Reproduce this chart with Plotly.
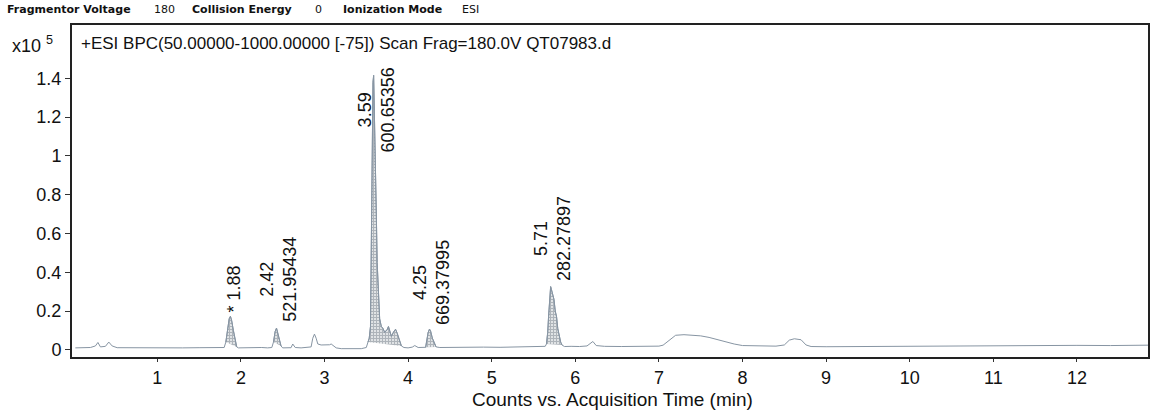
import plotly.graph_objects as go

# ---------------- data (intensity in units of 10^5 counts) ----------------
time_min = [
    0.02, 0.10, 0.20, 0.26, 0.29, 0.32, 0.38, 0.42, 0.46, 0.52, 0.70, 0.90, 1.10, 1.30,
    1.50, 1.65, 1.75, 1.80, 1.82, 1.84, 1.86, 1.875, 1.89, 1.91, 1.93, 1.95, 1.97,
    2.05, 2.15, 2.25, 2.32, 2.37, 2.39, 2.41, 2.426, 2.44, 2.46, 2.48, 2.50, 2.56,
    2.60, 2.62, 2.65, 2.72, 2.80, 2.84, 2.86, 2.88, 2.90, 2.92, 2.96, 3.02, 3.06,
    3.08, 3.11, 3.14, 3.20, 3.28, 3.36, 3.44, 3.50, 3.52, 3.535, 3.55, 3.56, 3.57,
    3.58, 3.588, 3.60, 3.61, 3.62, 3.63, 3.645, 3.66, 3.68, 3.70, 3.72, 3.75, 3.765,
    3.78, 3.80, 3.83, 3.85, 3.87, 3.90, 3.92, 3.95, 4.00, 4.05, 4.08, 4.12, 4.18,
    4.21, 4.22, 4.24, 4.256, 4.27, 4.29, 4.31, 4.335, 4.38, 4.50, 4.70, 4.90, 5.10,
    5.30, 5.50, 5.60, 5.64, 5.655, 5.67, 5.68, 5.695, 5.705, 5.715, 5.73, 5.745,
    5.76, 5.776, 5.79, 5.808, 5.825, 5.84, 5.87, 5.95, 6.05, 6.14, 6.18, 6.21, 6.25,
    6.35, 6.55, 6.75, 6.95, 7.00, 7.05, 7.12, 7.20, 7.30, 7.40, 7.50, 7.60, 7.70,
    7.80, 7.90, 8.00, 8.20, 8.40, 8.50, 8.56, 8.62, 8.70, 8.76, 8.82, 9.00, 9.30,
    9.60, 10.00, 10.40, 10.80, 11.20, 11.60, 12.00, 12.40, 12.85,
]
intensity = [
    0.010, 0.010, 0.012, 0.020, 0.038, 0.015, 0.018, 0.040, 0.020, 0.011, 0.010, 0.011, 0.009, 0.010,
    0.011, 0.010, 0.011, 0.012, 0.040, 0.100, 0.160, 0.173, 0.150, 0.100, 0.050, 0.015, 0.010,
    0.011, 0.009, 0.012, 0.010, 0.012, 0.040, 0.095, 0.112, 0.090, 0.050, 0.020, 0.010, 0.012,
    0.011, 0.030, 0.012, 0.010, 0.011, 0.015, 0.060, 0.081, 0.060, 0.030, 0.025, 0.024, 0.026,
    0.030, 0.020, 0.010, 0.006, 0.005, 0.007, 0.006, 0.012, 0.040, 0.060, 0.120, 0.600, 1.050,
    1.380, 1.415, 1.200, 0.980, 0.700, 0.450, 0.250, 0.160, 0.120, 0.110, 0.090, 0.105, 0.120,
    0.095, 0.070, 0.095, 0.106, 0.085, 0.040, 0.020, 0.012, 0.010, 0.014, 0.022, 0.012, 0.011,
    0.013, 0.040, 0.090, 0.107, 0.095, 0.060, 0.035, 0.015, 0.012, 0.013, 0.012, 0.014, 0.013,
    0.015, 0.014, 0.015, 0.018, 0.030, 0.090, 0.170, 0.280, 0.326, 0.310, 0.280, 0.260,
    0.200, 0.170, 0.110, 0.070, 0.040, 0.025, 0.017, 0.018, 0.017, 0.020, 0.035, 0.043, 0.022,
    0.018, 0.017, 0.018, 0.018, 0.019, 0.024, 0.050, 0.075, 0.078, 0.076, 0.072, 0.064, 0.053,
    0.040, 0.030, 0.022, 0.020, 0.019, 0.025, 0.050, 0.057, 0.052, 0.025, 0.017, 0.016, 0.017,
    0.017, 0.018, 0.019, 0.020, 0.021, 0.022, 0.023, 0.022, 0.024,
]

# integrated peaks: (start, end) retention window, labels
peak_windows = [(1.82, 1.95), (2.39, 2.48), (3.52, 3.92), (4.21, 4.335), (5.655, 5.84)]
label_rt = [1.913, 2.449, 3.617, 4.279, 5.721]
label_y = [0.314, 0.363, 1.235, 0.347, 0.576]
label_text = ["* 1.88", "2.42<br>521.95434", "3.59<br>600.65356",
              "4.25<br>669.37995", "5.71<br>282.27897"]

xtick_vals = [1, 2, 3, 4, 5, 6, 7, 8, 9, 10, 11, 12]
xtick_text = ["1", "2", "3", "4", "5", "6", "7", "8", "9", "10", "11", "12"]
ytick_vals = [0, 0.2, 0.4, 0.6, 0.8, 1.0, 1.2, 1.4]
ytick_text = ["0", "0.2", "0.4", "0.6", "0.8", "1", "1.2", "1.4"]

header_items = [("Fragmentor Voltage", True, 5), ("180", False, 152),
                ("Collision Energy", True, 190), ("0", False, 313),
                ("Ionization Mode", True, 342), ("ESI", False, 461)]
chart_title = "+ESI BPC(50.00000-1000.00000 [-75]) Scan Frag=180.0V QT07983.d"
x_title = "Counts vs. Acquisition Time (min)"

# ---------------- figure ----------------
W, H = 1152, 410
ML, MR, MT, MB = 72, 2, 25, 53
PW, PH = W - ML - MR, H - MT - MB


def px(x):
    return (x - ML) / PW


def py(y):
    return (H - MB - y) / PH


fig = go.Figure()
line_col = "#8795a3"

for (a, b) in peak_windows:
    xs = [t for t in time_min if a <= t <= b]
    ys = [v for t, v in zip(time_min, intensity) if a <= t <= b]
    fig.add_trace(go.Scatter(
        x=xs, y=ys, mode="lines", fill="toself",
        line=dict(color=line_col, width=1),
        fillcolor="rgba(255,255,255,0)",
        fillpattern=dict(shape="+", size=3, solidity=0.7,
                         fgcolor="#5e6a76", bgcolor="white"),
        hoverinfo="skip", showlegend=False))

fig.add_trace(go.Scatter(x=time_min, y=intensity, mode="lines",
                         line=dict(color=line_col, width=1), showlegend=False))

ann = []
for x, y, t in zip(label_rt, label_y, label_text):
    ann.append(dict(x=x, y=y, xref="x", yref="y", text=t, textangle=-90,
                    showarrow=False, xanchor="center", yanchor="middle",
                    font=dict(family="Liberation Sans, Arial", size=18, color="#111")))

for text, bold, left in header_items:
    ann.append(dict(x=px(left), y=py(9), xref="paper", yref="paper",
                    text=f"<b>{text}</b>" if bold else text, showarrow=False,
                    xanchor="left", yanchor="middle",
                    font=dict(family="DejaVu Sans, Verdana", size=11, color="#111")))

ann.append(dict(x=px(79), y=py(43), xref="paper", yref="paper", text=chart_title,
                showarrow=False, xanchor="left", yanchor="middle",
                font=dict(family="Liberation Sans, Arial", size=17, color="#111")))
ann.append(dict(x=px(10), y=py(44), xref="paper", yref="paper", text="x10 <sup>5</sup>",
                showarrow=False, xanchor="left", yanchor="middle",
                font=dict(family="Liberation Sans, Arial", size=18, color="#111")))
ann.append(dict(x=px(614), y=py(399), xref="paper", yref="paper", text=x_title,
                showarrow=False, xanchor="center", yanchor="middle",
                font=dict(family="Liberation Sans, Arial", size=19, color="#111")))

fig.update_layout(
    width=W, height=H, margin=dict(l=ML, r=MR, t=MT, b=MB),
    paper_bgcolor="white", plot_bgcolor="white",
    annotations=ann,
    xaxis=dict(range=[-0.02, 12.85], tickvals=xtick_vals, ticktext=xtick_text,
               showgrid=False, zeroline=False, showline=True, linecolor="#222",
               linewidth=2, mirror=True, ticks="outside", ticklen=3, tickcolor="#333",
               tickfont=dict(family="Liberation Sans, Arial", size=18, color="#111")),
    yaxis=dict(range=[-0.037, 1.675], tickvals=ytick_vals, ticktext=ytick_text,
               showgrid=False, zeroline=False, showline=True, linecolor="#222",
               linewidth=2, mirror=True, ticks="outside", ticklen=5, tickcolor="#333",
               tickfont=dict(family="Liberation Sans, Arial", size=18, color="#111")),
)

fig.write_html("out.html", config={"displayModeBar": False},
               post_script="document.body.style.margin='0';")
